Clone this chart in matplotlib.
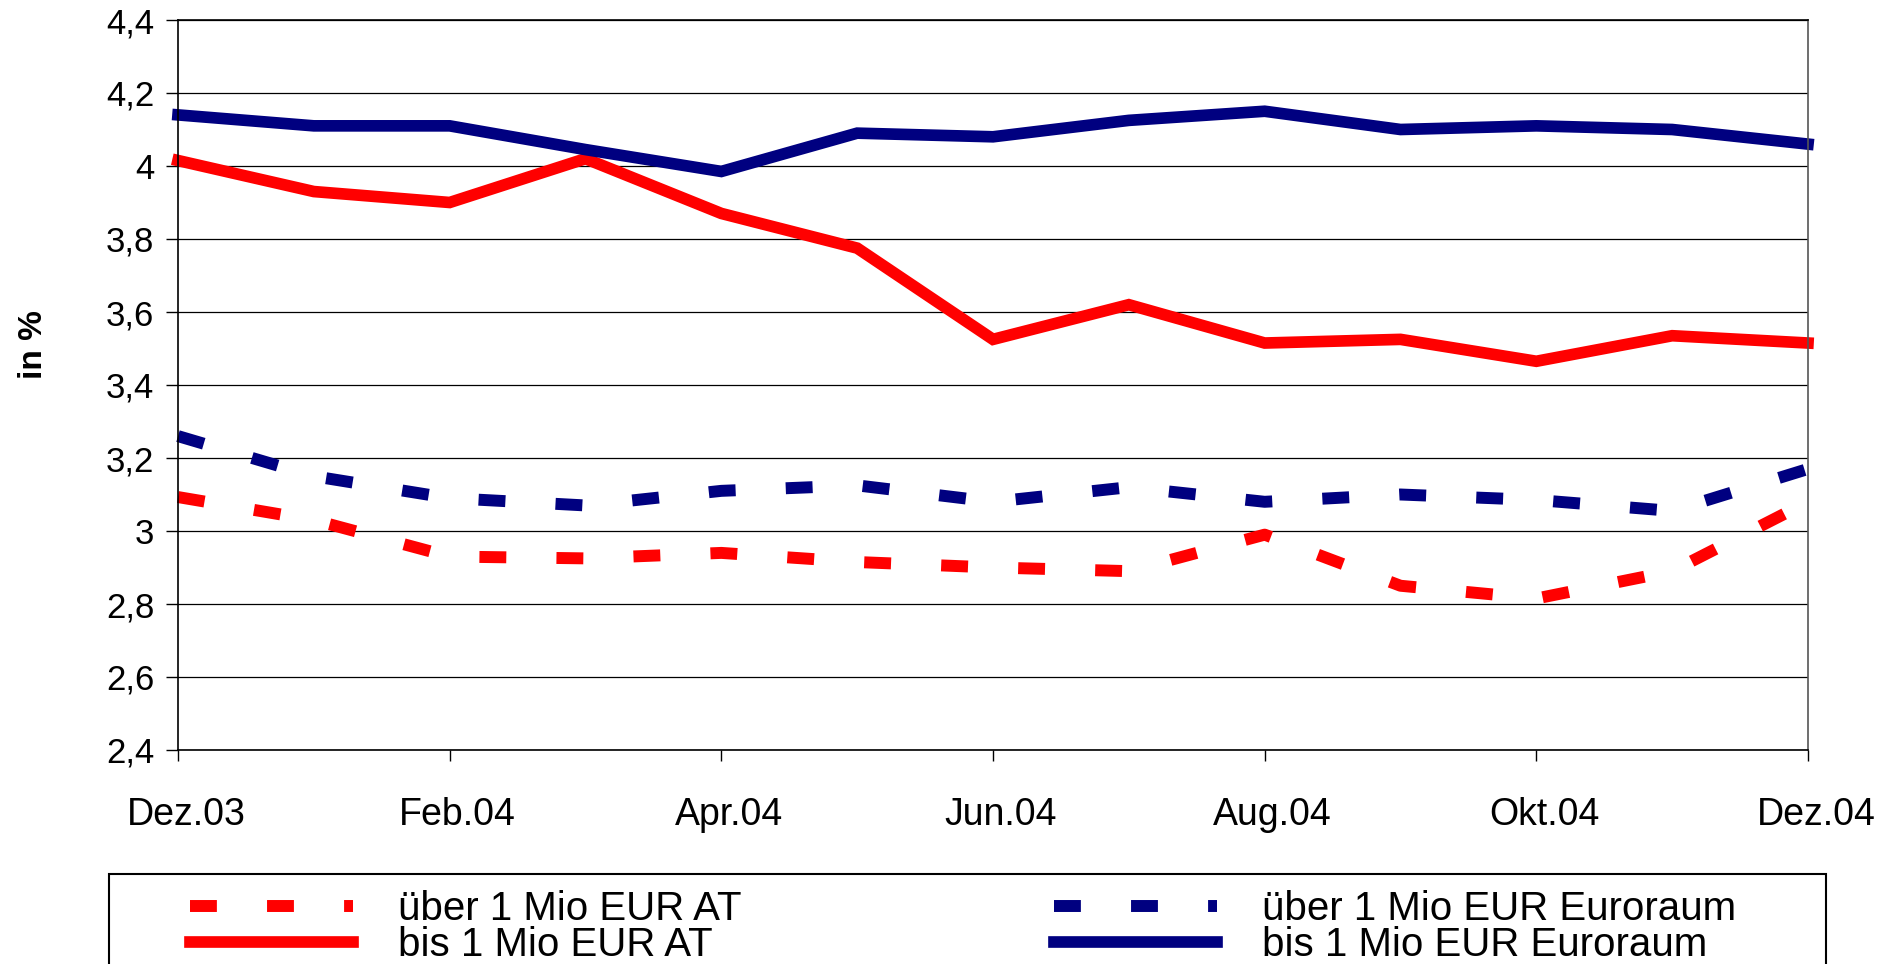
import matplotlib
matplotlib.use("Agg")
import matplotlib.pyplot as plt
import matplotlib.transforms as mtransforms
from matplotlib.patches import Rectangle

plt.rcParams['font.family'] = ['Liberation Sans', 'DejaVu Sans']

# monthly values, Dez.03 .. Dez.04
months = list(range(13))
bis_euroraum = [4.14, 4.11, 4.11, 4.045, 3.985, 4.09, 4.08, 4.125, 4.15, 4.10, 4.11, 4.10, 4.06]
bis_at = [4.015, 3.93, 3.90, 4.02, 3.87, 3.775, 3.525, 3.62, 3.515, 3.525, 3.465, 3.535, 3.515]
ueber_euroraum = [3.26, 3.15, 3.09, 3.07, 3.11, 3.125, 3.08, 3.12, 3.08, 3.10, 3.085, 3.055, 3.17]
ueber_at = [3.093, 3.03, 2.93, 2.925, 2.94, 2.915, 2.90, 2.89, 2.99, 2.85, 2.815, 2.89, 3.08]

xtick_pos = [0, 2, 4, 6, 8, 10, 12]
xtick_labels = ['Dez.03', 'Feb.04', 'Apr.04', 'Jun.04', 'Aug.04', 'Okt.04', 'Dez.04']
ytick_pos = [2.4, 2.6, 2.8, 3.0, 3.2, 3.4, 3.6, 3.8, 4.0, 4.2, 4.4]
ytick_labels = ['2,4', '2,6', '2,8', '3', '3,2', '3,4', '3,6', '3,8', '4', '4,2', '4,4']

RED = '#FF0000'
NAVY = '#000080'
W, H = 1899, 964

fig = plt.figure(figsize=(W / 100, H / 100), dpi=100)
ax = fig.add_axes([178 / W, 1 - 750 / H, (1808 - 178) / W, (750 - 20) / H])

dash = (2.25, 4.2)
l_ueber_at, = ax.plot(months, ueber_at, color=RED, lw=8.6, dashes=dash,
                      dash_capstyle='butt', label='über 1 Mio EUR AT', clip_on=False)
l_ueber_eu, = ax.plot(months, ueber_euroraum, color=NAVY, lw=8.6, dashes=dash,
                      dash_capstyle='butt', label='über 1 Mio EUR Euroraum', clip_on=False)
l_bis_at, = ax.plot(months, bis_at, color=RED, lw=8.4, label='bis 1 Mio EUR AT',
                    solid_joinstyle='miter', clip_on=False)
l_bis_eu, = ax.plot(months, bis_euroraum, color=NAVY, lw=8.4, label='bis 1 Mio EUR Euroraum',
                    solid_joinstyle='miter', clip_on=False)

ax.set_xlim(0, 12)
ax.set_ylim(2.4, 4.4)
ax.set_xticks(xtick_pos)
ax.set_xticklabels(xtick_labels, fontsize=27)
ax.set_yticks(ytick_pos)
ax.set_yticklabels(ytick_labels, fontsize=25)
ax.tick_params(axis='y', direction='out', length=9, width=1, pad=8)
ax.tick_params(axis='x', direction='out', length=8, width=1, pad=26)
# labels sit a little right of their ticks in the original
shift = mtransforms.ScaledTranslation(8 / 100, 0, fig.dpi_scale_trans)
for lab in ax.get_xticklabels():
    lab.set_transform(lab.get_transform() + shift)
ax.yaxis.grid(True, color='black', lw=0.9)
ax.set_axisbelow(True)
for side in ['left', 'bottom', 'top']:
    ax.spines[side].set_color('black')
    ax.spines[side].set_linewidth(1.2)
ax.spines['right'].set_color('#555555')
ax.spines['right'].set_linewidth(1.2)

fig.text(34 / W, 1 - 345 / H, 'in %', rotation=90, ha='center', va='center',
         fontsize=24, fontweight='bold')

# legend box, cut off at the bottom like the original
frame = Rectangle((109 / W, -0.1), (1826 - 109) / W, 0.1 + (1 - 874 / H),
                  transform=fig.transFigure, fill=False, edgecolor='black', lw=1.5)
fig.add_artist(frame)

leg_kw = dict(loc='upper left', frameon=False, borderpad=0, fontsize=29,
              handlelength=4.05, handletextpad=1.1, labelspacing=-0.06)
leg1 = fig.legend(handles=[l_ueber_at, l_bis_at], bbox_to_anchor=(170 / W, 1 - 870 / H), **leg_kw)
leg2 = fig.legend(handles=[l_ueber_eu, l_bis_eu], bbox_to_anchor=(1034 / W, 1 - 870 / H), **leg_kw)

fig.savefig('out.png', dpi=100)
